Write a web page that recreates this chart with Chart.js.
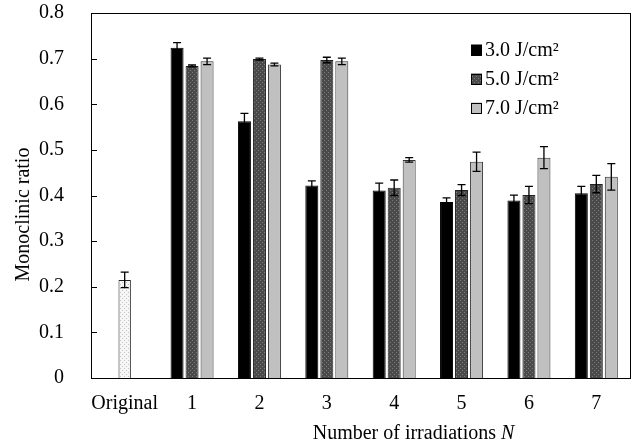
<!DOCTYPE html>
<html lang="en">
<head>
<meta charset="UTF-8">
<title>Monoclinic ratio vs number of irradiations</title>
<script src="https://cdn.jsdelivr.net/npm/chart.js"></script>
<style>
    body {
        margin: 0;
        background: #fff;
    }
    canvas {
        display: block;
    }
</style>
</head>
<body>
<canvas id="chart" width="633" height="447"></canvas>
<script>
    // data
    const categories = ['Original', '1', '2', '3', '4', '5', '6', '7'];
    const seriesNames = ['3.0 J/cm²', '5.0 J/cm²', '7.0 J/cm²'];

    const originalRatio = [0.215, null, null, null, null, null, null, null];
    const originalErr   = [0.017, null, null, null, null, null, null, null];

    const ratio30 = [null, 0.724, 0.563, 0.422, 0.411, 0.386, 0.389, 0.405];
    const err30   = [null, 0.011, 0.017, 0.010, 0.016, 0.009, 0.012, 0.015];

    const ratio50 = [null, 0.684, 0.699, 0.697, 0.417, 0.412, 0.401, 0.425];
    const err50   = [null, 0.002, 0.002, 0.006, 0.017, 0.012, 0.019, 0.019];

    const ratio70 = [null, 0.694, 0.687, 0.694, 0.478, 0.474, 0.483, 0.441];
    const err70   = [null, 0.007, 0.003, 0.007, 0.005, 0.021, 0.024, 0.029];

    const yTicks = [0, 0.1, 0.2, 0.3, 0.4, 0.5, 0.6, 0.7, 0.8];

    const FONT = "'Liberation Serif', 'Times New Roman', serif";
    Chart.defaults.font.family = FONT;
    Chart.defaults.font.size = 20;
    Chart.defaults.color = '#000';

    // small fill textures like the original figure
    function makePattern(base, dot, size) {
        const c = document.createElement('canvas');
        c.width = size;
        c.height = size;
        const g = c.getContext('2d');
        g.fillStyle = base;
        g.fillRect(0, 0, size, size);
        g.fillStyle = dot;
        g.fillRect(0, 0, 1, 1);
        g.fillRect(2, 2, 1, 1);
        return g.createPattern(c, 'repeat');
    }
    const darkFill = makePattern('#4a4a4a', '#7c7c7c', 4);
    const paleFill = makePattern('#f6f6f6', '#c4c4c4', 4);

    // error bars, drawn through the bar elements and the y scale
    const errorBars = {
        id: 'errorBars',
        afterDatasetsDraw(chart) {
            const ctx = chart.ctx;
            const y = chart.scales.y;
            ctx.save();
            ctx.strokeStyle = '#000';
            ctx.lineWidth = 1.3;
            chart.data.datasets.forEach((ds, i) => {
                const meta = chart.getDatasetMeta(i);
                ds.data.forEach((v, j) => {
                    if (v == null || ds.errors[j] == null) return;
                    const x = meta.data[j].x;
                    const top = y.getPixelForValue(v + ds.errors[j]);
                    const bot = y.getPixelForValue(v - ds.errors[j]);
                    ctx.beginPath();
                    ctx.moveTo(x, top); ctx.lineTo(x, bot);
                    ctx.moveTo(x - 4, top); ctx.lineTo(x + 4, top);
                    ctx.moveTo(x - 4, bot); ctx.lineTo(x + 4, bot);
                    ctx.stroke();
                });
            });
            ctx.restore();
        }
    };

    // frame, inward ticks, titles and the legend box
    const decorations = {
        id: 'decorations',
        afterDraw(chart) {
            const ctx = chart.ctx;
            const a = chart.chartArea;
            const y = chart.scales.y;
            ctx.save();
            ctx.strokeStyle = '#000';
            ctx.lineWidth = 1;
            ctx.strokeRect(Math.round(a.left) + 0.5, Math.round(a.top) + 0.5,
                Math.round(a.right - a.left), Math.round(a.bottom - a.top));

            ctx.beginPath();
            y.ticks.forEach(t => {
                const py = Math.round(y.getPixelForValue(t.value)) + 0.5;
                ctx.moveTo(a.left, py);
                ctx.lineTo(a.left + 6, py);
            });
            ctx.stroke();

            ctx.fillStyle = '#000';
            ctx.textBaseline = 'middle';

            // y title
            ctx.save();
            ctx.translate(24, (a.top + a.bottom) / 2 + 19);
            ctx.rotate(-Math.PI / 2);
            ctx.textAlign = 'center';
            ctx.font = '20px ' + FONT;
            ctx.fillText('Monoclinic ratio', 0, 0);
            ctx.restore();

            // x title with italic N
            const head = 'Number of irradiations ';
            ctx.font = '20px ' + FONT;
            const w1 = ctx.measureText(head).width;
            ctx.font = 'italic 20px ' + FONT;
            const w2 = ctx.measureText('N').width;
            const x0 = (a.left + a.right) / 2 + 53 - (w1 + w2) / 2;
            ctx.textAlign = 'left';
            ctx.font = '20px ' + FONT;
            ctx.fillText(head, x0, 434);
            ctx.font = 'italic 20px ' + FONT;
            ctx.fillText('N', x0 + w1, 434);

            // legend
            ctx.font = '20px ' + FONT;
            chart.data.datasets.filter(ds => ds.inLegend).forEach((ds, k) => {
                const cy = a.top + 37 + k * 29;
                ctx.fillStyle = ds.backgroundColor;
                ctx.fillRect(471, cy - 5.5, 11, 11);
                ctx.strokeStyle = '#000';
                ctx.strokeRect(471.5, Math.round(cy - 5.5) + 0.5, 10, 10);
                ctx.fillStyle = '#000';
                ctx.fillText(ds.label, 485, cy + 1);
            });
            ctx.restore();
        }
    };

    new Chart(document.getElementById('chart'), {
        type: 'bar',
        data: {
            labels: categories,
            datasets: [
                {
                    label: 'Original',
                    data: originalRatio,
                    errors: originalErr,
                    backgroundColor: paleFill,
                    borderColor: '#222',
                    borderWidth: 1,
                    barPercentage: 0.275,
                    inLegend: false
                },
                {
                    label: seriesNames[0],
                    data: ratio30,
                    errors: err30,
                    backgroundColor: '#000',
                    borderColor: '#000',
                    borderWidth: 1,
                    inLegend: true
                },
                {
                    label: seriesNames[1],
                    data: ratio50,
                    errors: err50,
                    backgroundColor: darkFill,
                    borderColor: '#222',
                    borderWidth: 1,
                    inLegend: true
                },
                {
                    label: seriesNames[2],
                    data: ratio70,
                    errors: err70,
                    backgroundColor: '#c0c0c0',
                    borderColor: '#333',
                    borderWidth: 1,
                    inLegend: true
                }
            ]
        },
        options: {
            responsive: false,
            animation: false,
            events: [],
            layout: {
                padding: { top: 13, right: 3, left: 0, bottom: 0 }
            },
            datasets: {
                bar: {
                    skipNull: true,
                    categoryPercentage: 0.668,
                    barPercentage: 0.867
                }
            },
            plugins: {
                legend: { display: false },
                tooltip: { enabled: false }
            },
            scales: {
                x: {
                    grid: { display: false },
                    border: { display: true, color: '#000', width: 1 },
                    ticks: {
                        padding: 6,
                        font: { size: 20 },
                        autoSkip: false,
                        minRotation: 0,
                        maxRotation: 0
                    },
                    afterFit(scale) {
                        scale.height = 69;
                        scale.paddingLeft = 0;
                        scale.paddingRight = 0;
                    }
                },
                y: {
                    min: 0,
                    max: 0.8,
                    grid: { display: false },
                    border: { display: true, color: '#000', width: 1 },
                    afterBuildTicks(scale) {
                        scale.ticks = yTicks.map(v => ({ value: v }));
                    },
                    ticks: {
                        padding: 19,
                        font: { size: 20 },
                        callback: v => (v === 0 ? '0' : v.toFixed(1))
                    },
                    afterFit(scale) {
                        scale.width = 91;
                        scale.paddingTop = 0;
                        scale.paddingBottom = 0;
                    }
                }
            }
        },
        plugins: [errorBars, decorations]
    });
</script>
</body>
</html>
